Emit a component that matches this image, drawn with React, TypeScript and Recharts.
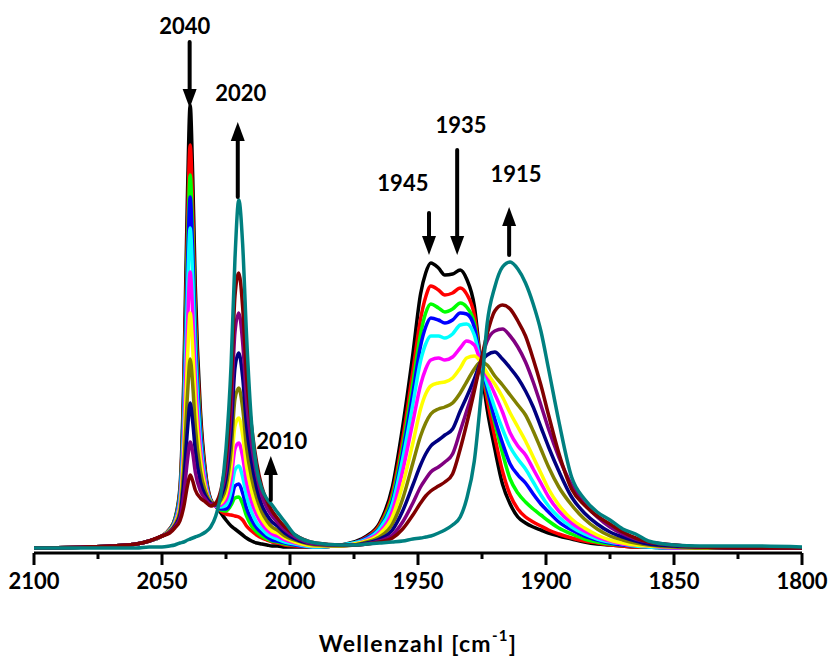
import React from 'react';
import { LineChart, Line, XAxis, YAxis, ReferenceLine, ReferenceDot, Label } from 'recharts';

// wavenumber grid, cm-1 (axis runs 2100 -> 1800)
const wavenumbers = [
  2100, 2080, 2070, 2060, 2055, 2050, 2047, 2045, 2043, 2041.5,
  2040, 2039, 2038, 2037, 2035, 2033, 2031, 2029, 2027, 2025,
  2023, 2021.5, 2020, 2018.5, 2017, 2015, 2013, 2011, 2009, 2007,
  2005, 2002, 1998, 1990, 1980, 1975, 1970, 1965, 1960, 1956,
  1952, 1949, 1947, 1945, 1942, 1939.5, 1936.5, 1933.5, 1931, 1928,
  1925.5, 1923, 1920, 1917, 1914, 1911, 1908, 1905, 1902, 1899,
  1895, 1890, 1885, 1880, 1875, 1870, 1865, 1860, 1850, 1840,
  1820, 1800,
];

// absorbance (arbitrary units) per spectrum, same order as wavenumbers
const black = [
  1, 2, 3, 5, 8, 13, 20, 30, 61, 168,
  360, 444, 372, 263, 139, 77, 50, 43, 36, 29,
  23, 20, 17, 14, 11, 8, 6, 5, 4, 3,
  3, 2, 2, 2, 4, 7, 13, 26, 62, 122,
  195, 255, 276, 286, 281, 274, 275, 279, 270, 243,
  187, 140, 100, 65, 45, 32, 26, 22, 19, 16,
  13, 10, 7, 5, 4, 3, 2, 2, 1, 1,
  1, 1,
];
const red = [
  1, 2, 3, 5, 8, 13, 20, 29, 57, 154,
  328, 404, 339, 241, 129, 74, 49, 43, 38, 35,
  34, 33, 32, 29, 23, 18, 14, 11, 9, 7,
  6, 4, 3, 2, 4, 6, 12, 24, 56, 110,
  178, 230, 252, 263, 259, 254, 256, 261, 255, 234,
  187, 150, 112, 78, 54, 40, 32, 27, 23, 19,
  15, 11, 8, 6, 4, 3, 2, 2, 1, 1,
  1, 1,
];
const green = [
  1, 2, 3, 5, 8, 13, 19, 29, 55, 144,
  304, 374, 314, 224, 122, 71, 48, 43, 39, 38,
  44, 51, 52, 45, 33, 23, 17, 13, 10, 8,
  7, 5, 4, 2, 4, 6, 11, 22, 52, 102,
  166, 215, 236, 245, 241, 237, 240, 246, 242, 226,
  187, 158, 126, 96, 70, 56, 47, 40, 34, 28,
  21, 15, 10, 7, 5, 4, 3, 2, 1, 1,
  1, 1,
];
const blue = [
  1, 2, 3, 5, 8, 13, 19, 28, 53, 137,
  286, 352, 296, 212, 117, 70, 48, 43, 40, 40,
  48, 63, 65, 56, 41, 29, 21, 16, 12, 9,
  8, 6, 4, 2, 4, 6, 11, 21, 48, 96,
  156, 203, 222, 231, 229, 226, 229, 236, 235, 222,
  187, 160, 130, 106, 85, 74, 66, 55, 45, 37,
  27, 19, 13, 9, 6, 4, 3, 2, 1, 1,
  1, 1,
];
const cyan = [
  1, 2, 3, 5, 8, 13, 19, 27, 50, 126,
  261, 321, 271, 195, 109, 67, 48, 43, 42, 44,
  58, 79, 83, 72, 53, 37, 26, 20, 15, 12,
  10, 7, 5, 2, 4, 6, 10, 20, 45, 90,
  145, 188, 205, 213, 213, 211, 215, 224, 225, 214,
  187, 165, 141, 120, 102, 90, 80, 67, 54, 43,
  32, 22, 15, 10, 7, 5, 3, 2, 1, 1,
  1, 1,
];
const magenta = [
  1, 2, 3, 5, 8, 13, 18, 26, 46, 111,
  226, 277, 235, 171, 99, 64, 47, 43, 44, 49,
  70, 100, 106, 92, 67, 47, 34, 25, 19, 15,
  13, 9, 6, 3, 3, 5, 9, 17, 38, 78,
  127, 164, 180, 189, 191, 189, 192, 201, 208, 204,
  187, 172, 155, 137, 116, 103, 94, 80, 66, 52,
  38, 26, 18, 12, 8, 5, 4, 3, 1, 1,
  1, 1,
];
const yellow = [
  1, 2, 3, 5, 8, 13, 18, 25, 42, 97,
  193, 236, 201, 148, 89, 60, 47, 44, 46, 55,
  83, 123, 131, 114, 83, 58, 41, 30, 23, 18,
  16, 11, 7, 3, 3, 5, 8, 15, 32, 64,
  106, 140, 155, 163, 166, 167, 171, 181, 191, 193,
  187, 176, 165, 152, 136, 122, 108, 92, 76, 60,
  44, 30, 21, 14, 9, 6, 4, 3, 2, 1,
  1, 1,
];
const olive = [
  1, 2, 3, 5, 8, 13, 18, 24, 38, 82,
  156, 190, 164, 123, 78, 57, 47, 44, 49, 62,
  99, 150, 161, 141, 102, 71, 51, 37, 28, 22,
  19, 13, 9, 4, 3, 4, 7, 12, 25, 50,
  86, 113, 126, 135, 140, 142, 146, 156, 167, 180,
  187, 184, 173, 164, 154, 144, 134, 118, 100, 82,
  62, 44, 30, 20, 13, 9, 6, 4, 2, 1,
  1, 1,
];
const navy = [
  1, 2, 3, 5, 8, 13, 17, 23, 34, 67,
  121, 146, 127, 99, 67, 53, 46, 44, 52, 70,
  118, 181, 196, 172, 124, 87, 61, 44, 34, 27,
  23, 16, 10, 5, 4, 4, 6, 10, 19, 38,
  64, 84, 95, 103, 109, 114, 120, 138, 152, 170,
  187, 194, 197, 190, 181, 171, 158, 142, 122, 102,
  78, 52, 36, 25, 17, 12, 8, 5, 3, 2,
  1, 1,
];
const purple = [
  1, 2, 3, 5, 8, 13, 17, 22, 31, 54,
  90, 107, 96, 77, 58, 50, 45, 45, 56, 79,
  139, 217, 236, 207, 149, 104, 74, 53, 41, 33,
  27, 19, 12, 5, 4, 4, 5, 8, 14, 27,
  46, 62, 70, 77, 82, 87, 95, 118, 138, 162,
  187, 208, 218, 220, 213, 202, 187, 167, 144, 120,
  92, 64, 45, 32, 22, 15, 10, 7, 4, 2,
  1, 1,
];
const maroon = [
  1, 2, 3, 5, 8, 13, 16, 21, 28, 42,
  64, 74, 68, 59, 51, 47, 43, 46, 59, 89,
  160, 253, 276, 242, 174, 122, 86, 62, 48, 38,
  31, 22, 14, 6, 4, 4, 5, 7, 11, 20,
  34, 46, 53, 58, 63, 67, 75, 100, 125, 158,
  187, 215, 238, 244, 240, 228, 213, 190, 164, 134,
  96, 60, 44, 33, 25, 17, 11, 7, 4, 2,
  1, 1,
];
const teal = [
  1, 1, 1, 1, 2, 2, 3, 4, 6, 7,
  9, 10, 11, 12, 14, 17, 22, 33, 55, 100,
  185, 290, 349, 305, 215, 125, 80, 60, 50, 44,
  37, 27, 14, 6, 4, 4, 5, 6, 7, 8,
  10, 11, 12, 13, 16, 19, 24, 32, 50, 88,
  150, 225, 262, 282, 287, 280, 266, 245, 218, 180,
  128, 72, 50, 37, 29, 20, 15, 8, 4, 3,
  3, 2,
];

const xTicks = [2100, 2075, 2050, 2025, 2000, 1975, 1950, 1925, 1900, 1875, 1850, 1825, 1800];

// band annotations: label text, arrow x, arrow start/end height, label position
const bandLabels = ['2040', '2020', '2010', '1945', '1935', '1915'];
const arrowX = [2039.2, 2020.4, 2007.5, 1945.7, 1934.7, 1914.4];
const arrowFrom = [507, 352, 49, 336, 399, 294];
const arrowTo = [441, 427, 93, 294, 294, 342];
const labelX = [2041.1, 2019.2, 2003.2, 1955.9, 1933.2, 1911.7];
const labelY = [523, 456, 108, 366, 424, 375];

const series = [
  { name: 'black', values: black, color: '#000000' },
  { name: 'red', values: red, color: '#ff0000' },
  { name: 'green', values: green, color: '#00ff00' },
  { name: 'blue', values: blue, color: '#0000ff' },
  { name: 'cyan', values: cyan, color: '#00ffff' },
  { name: 'magenta', values: magenta, color: '#ff00ff' },
  { name: 'yellow', values: yellow, color: '#ffff00' },
  { name: 'olive', values: olive, color: '#808000' },
  { name: 'navy', values: navy, color: '#000080' },
  { name: 'purple', values: purple, color: '#800080' },
  { name: 'maroon', values: maroon, color: '#800000' },
  { name: 'teal', values: teal, color: '#008080' },
];

const data = wavenumbers.map((x, i) => {
  const row: Record<string, number> = { x };
  series.forEach(s => { row[s.name] = s.values[i]; });
  return row;
});

const FONT = "Lato, 'Open Sans', sans-serif";

const XTick = (props: any) => {
  const { x, y, payload } = props;
  const major = payload.value % 50 === 0;
  return (
    <g>
      <line x1={x} x2={x} y1={y} y2={y + (major ? 12 : 6)} stroke="#000" strokeWidth={3} />
      {major && (
        <text x={x} y={y + 36} textAnchor="middle" fontFamily={FONT} fontWeight={700} fontSize={22} fill="#000">
          {payload.value}
        </text>
      )}
    </g>
  );
};

const AxisTitle = (props: any) => {
  const { x, y, width } = props.viewBox;
  return (
    <text
      x={x + width / 2}
      y={y + 99}
      textAnchor="middle"
      fontFamily={FONT}
      fontWeight={700}
      fontSize={23}
      letterSpacing={1.3}
      fill="#000"
    >
      Wellenzahl [cm
      <tspan dy={-11} fontSize={15}>-1</tspan>
      <tspan dy={11}>]</tspan>
    </text>
  );
};

const Arrow = (props: any) => {
  const { x1, y1, x2, y2 } = props;
  const dir = y2 > y1 ? 1 : -1;
  const headLen = 19;
  const half = 7;
  return (
    <g>
      <line x1={x1} y1={y1} x2={x2} y2={y2 - dir * (headLen - 2)} stroke="#000" strokeWidth={4} strokeLinecap="round" />
      <polygon
        points={`${x2},${y2} ${x2 - half},${y2 - dir * headLen} ${x2 + half},${y2 - dir * headLen}`}
        fill="#000"
      />
    </g>
  );
};

const App = () => (
  <div style={{ position: 'absolute', left: 0, top: 0, background: '#fff' }}>
    <LineChart width={828} height={659} data={data} margin={{ top: 10, right: 26, bottom: 0, left: 34 }}>
      <XAxis
        type="number"
        dataKey="x"
        domain={[1800, 2100]}
        reversed
        ticks={xTicks}
        interval={0}
        tick={<XTick />}
        tickLine={false}
        tickSize={0}
        tickMargin={0}
        axisLine={{ stroke: '#000', strokeWidth: 3 }}
        height={106}
        allowDataOverflow
      >
        <Label content={<AxisTitle />} />
      </XAxis>
      <YAxis type="number" hide domain={[-4, 539]} allowDataOverflow />
      {series.map(s => (
        <Line
          key={s.name}
          type="monotone"
          dataKey={s.name}
          stroke={s.color}
          strokeWidth={3.5}
          dot={false}
          activeDot={false}
          isAnimationActive={false}
        />
      ))}
      {bandLabels.map((b, i) => (
        <ReferenceLine
          key={`arrow-${b}`}
          segment={[{ x: arrowX[i], y: arrowFrom[i] }, { x: arrowX[i], y: arrowTo[i] }]}
          shape={<Arrow />}
        />
      ))}
      {bandLabels.map((b, i) => (
        <ReferenceDot
          key={`label-${b}`}
          x={labelX[i]}
          y={labelY[i]}
          r={0}
          shape={(p: any) => (
            <text x={p.cx} y={p.cy + 8} textAnchor="middle" fontFamily={FONT} fontWeight={700} fontSize={22} fill="#000">
              {b}
            </text>
          )}
        />
      ))}
    </LineChart>
  </div>
);

export default App;
